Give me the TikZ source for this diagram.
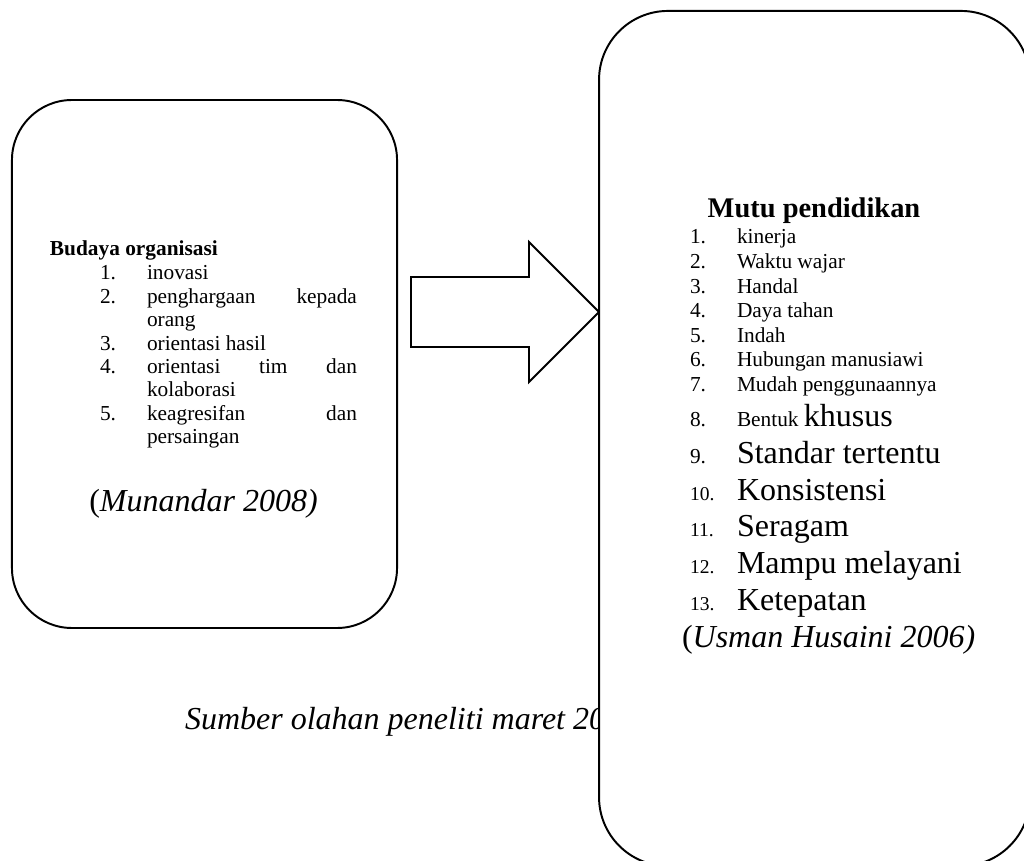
\documentclass[tikz,border=0pt]{standalone}
\usepackage{fontspec}
\setmainfont{Liberation Serif}
\newcommand\myjust[1]{\hbox to 118.1pt{#1}}
\begin{document}
\begin{tikzpicture}[x=0.5625pt,y=-0.5625pt,
  boxline/.style={draw=black, line width=1.1pt, fill=white},
  txt/.style={inner sep=0pt, outer sep=0pt, anchor=base west, font=\fontsize{12}{14}\selectfont},
  big/.style={inner sep=0pt, outer sep=0pt, anchor=base west, font=\fontsize{18}{21}\selectfont},
  num/.style={inner sep=0pt, outer sep=0pt, anchor=base west, font=\fontsize{12}{14}\selectfont},
  smallnum/.style={inner sep=0pt, outer sep=0pt, anchor=base west, font=\fontsize{11}{13}\selectfont}]
\useasboundingbox (0,0) rectangle (1024,861);
\clip (0,0) rectangle (1024,861);
\fill[white] (0,0) rectangle (1024,861);

% left box
\node[boxline, rounded corners=33.75pt, minimum width=216.6pt, minimum height=297pt] (lbox) at (204.5,364) {};
\node[txt, font=\fontsize{12}{14}\selectfont\bfseries] (lhead) at (50,256) {Budaya organisasi};
\node[num] (ln1) at (100,280) {1.};
\node[num] (ln2) at (100,303.4) {2.};
\node[num] (ln3) at (100,350.2) {3.};
\node[num] (ln4) at (100,373.6) {4.};
\node[num] (ln5) at (100,420.4) {5.};
\node[txt] (lt1) at (147,280) {inovasi};
\node[txt] (lt2) at (147,303.4) {\myjust{penghargaan\hfill kepada}};
\node[txt] (lt2b) at (147,326.8) {orang};
\node[txt] (lt3) at (147,350.2) {orientasi hasil};
\node[txt] (lt4) at (147,373.6) {\myjust{orientasi\hfill tim\hfill dan}};
\node[txt] (lt4b) at (147,397) {kolaborasi};
\node[txt] (lt5) at (147,420.4) {\myjust{keagresifan\hfill dan}};
\node[txt] (lt5b) at (147,443.8) {persaingan};
\node[inner sep=0pt, anchor=base, font=\fontsize{18}{21}\selectfont] (lsrc) at (203.5,512) {(\textit{Munandar 2008)}};

% block arrow
\draw[line width=1.1pt, fill=white] (411,277) -- (529,277) -- (529,242) -- (599,312) -- (529,382) -- (529,347) -- (411,347) -- cycle;

% caption (partly covered by right box)
\node[big, font=\fontsize{18}{21}\selectfont\itshape] (cap) at (185,729) {Sumber olahan peneliti maret 20};

% right box
\node[boxline, rounded corners=38.8pt, minimum width=242.4pt, minimum height=481pt] (rbox) at (814.5,438.5) {};
\node[inner sep=0pt, anchor=base, font=\fontsize{16}{19}\selectfont\bfseries] (rhead) at (814,218) {Mutu pendidikan};
\node[num] (rn1) at (690,244) {1.};
\node[num] (rn2) at (690,268.6) {2.};
\node[num] (rn3) at (690,293.2) {3.};
\node[num] (rn4) at (690,317.8) {4.};
\node[num] (rn5) at (690,342.4) {5.};
\node[num] (rn6) at (690,367) {6.};
\node[num] (rn7) at (690,391.6) {7.};
\node[num] (rn8) at (690,427) {8.};
\node[num] (rn9) at (690,463.7) {9.};
\node[smallnum] (rn10) at (690,500.4) {10.};
\node[smallnum] (rn11) at (690,537) {11.};
\node[smallnum] (rn12) at (690,573.8) {12.};
\node[smallnum] (rn13) at (690,610.5) {13.};
\node[txt] (rt1) at (737,244) {kinerja};
\node[txt] (rt2) at (737,268.6) {Waktu wajar};
\node[txt] (rt3) at (737,293.2) {Handal};
\node[txt] (rt4) at (737,317.8) {Daya tahan};
\node[txt] (rt5) at (737,342.4) {Indah};
\node[txt] (rt6) at (737,367) {Hubungan manusiawi};
\node[txt] (rt7) at (737,391.6) {Mudah penggunaannya};
\node[txt] (rt8) at (737,427) {Bentuk {\fontsize{18}{21}\selectfont khusus}};
\node[big] (rt9) at (737,463.7) {Standar tertentu};
\node[big] (rt10) at (737,500.4) {Konsistensi};
\node[big] (rt11) at (737,537) {Seragam};
\node[big] (rt12) at (737,573.8) {Mampu melayani};
\node[big] (rt13) at (737,610.5) {Ketepatan};
\node[big] (rsrc) at (682,647.2) {(\textit{Usman Husaini 2006)}};
\end{tikzpicture}
\end{document}
